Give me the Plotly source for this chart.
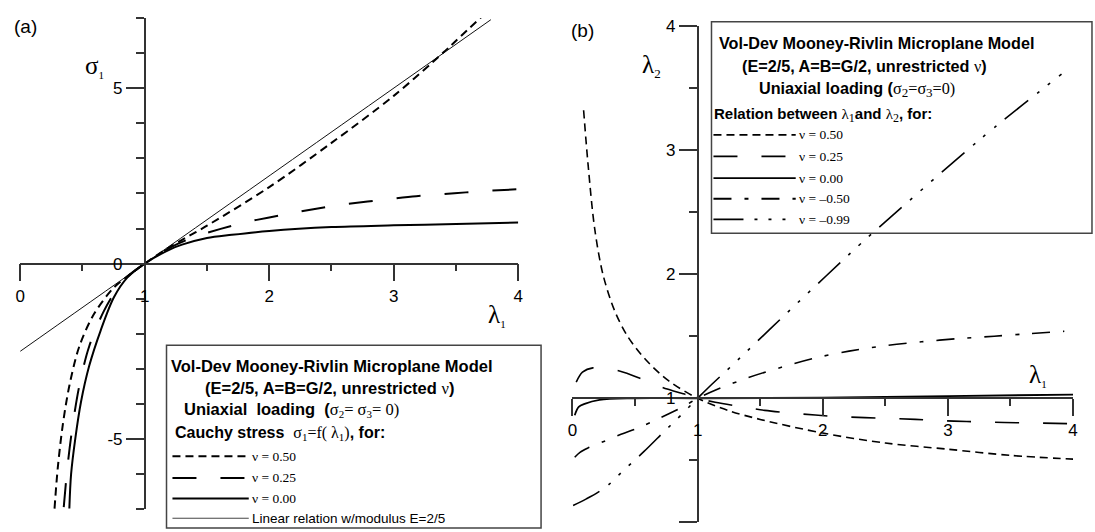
import plotly.graph_objects as go

W, H = 1095, 532

# ---------------- data: panel (a)  sigma_1 = f(lambda_1) ----------------
lam_a_nu050 = [0.276, 0.302, 0.342, 0.395, 0.475, 0.594, 0.753, 0.86, 1.0, 1.2, 1.5, 2.0, 2.5, 3.0, 3.4, 3.5, 3.72]
sig_a_nu050 = [-6.98, -5.82, -4.60, -3.48, -2.36, -1.43, -0.68, -0.37, 0.0, 0.47, 1.08, 2.18, 3.44, 4.78, 6.02, 6.35, 7.08]

lam_a_nu025 = [0.350, 0.382, 0.422, 0.475, 0.554, 0.674, 0.793, 0.86, 1.0, 1.2, 1.4, 1.61, 1.80, 1.99,
               2.21, 2.39, 2.59, 2.79, 2.99, 3.18, 3.40, 3.58, 3.79, 4.0]
sig_a_nu025 = [-6.94, -5.72, -4.60, -3.48, -2.36, -1.34, -0.64, -0.37, 0.0, 0.45, 0.76, 0.99, 1.17, 1.31,
               1.46, 1.57, 1.68, 1.77, 1.85, 1.92, 1.98, 2.03, 2.08, 2.12]

lam_a_nu000 = [0.395, 0.409, 0.443, 0.488, 0.554, 0.647, 0.753, 0.86, 1.0, 1.2, 1.3, 1.5, 1.7, 2.0, 2.5, 3.0, 3.5, 4.0]
sig_a_nu000 = [-6.98, -6.00, -4.98, -3.95, -2.92, -1.90, -0.96, -0.40, 0.0, 0.40, 0.54, 0.73, 0.82, 0.93, 1.04, 1.09, 1.13, 1.17]

lam_a_lin = [0.0, 1.0, 3.78]
sig_a_lin = [-2.5, 0.0, 6.95]

# ---------------- data: panel (b)  lambda_2 vs lambda_1 ----------------
lam_b_nu050 = [0.089, 0.124, 0.177, 0.243, 0.335, 0.44, 0.586, 0.77, 1.0, 1.25, 1.5, 2.0, 2.5, 3.0, 3.5, 4.0]
l2_b_nu050 = [3.32, 2.89, 2.37, 2.00, 1.71, 1.50, 1.31, 1.14, 1.0, 0.90, 0.83, 0.72, 0.64, 0.59, 0.54, 0.51]

lam_b_nu025 = [0.03, 0.08, 0.163, 0.375, 0.572, 0.757, 0.955, 1.0, 1.14, 1.33, 1.536, 1.72, 1.94, 2.14,
               2.53, 2.74, 2.95, 3.15, 3.35, 3.55, 3.75, 4.0]
l2_b_nu025 = [1.13, 1.21, 1.245, 1.22, 1.148, 1.074, 1.016, 1.0, 0.968, 0.935, 0.903, 0.884, 0.865, 0.852,
              0.838, 0.83, 0.82, 0.813, 0.808, 0.803, 0.80, 0.795]

lam_b_nu000 = [0.018, 0.05, 0.097, 0.216, 0.48, 1.0, 2.0, 3.0, 4.0]
l2_b_nu000 = [0.863, 0.93, 0.955, 0.987, 1.0, 1.0, 1.006, 1.018, 1.03]

lam_b_num050 = [0.018, 0.06, 0.124, 0.256, 0.388, 0.52, 0.644, 0.77, 0.889, 1.0,
                1.14, 1.40, 1.67, 1.94, 2.21, 2.51, 2.79, 3.07, 3.37, 3.64, 3.93]
l2_b_num050 = [0.525, 0.565, 0.60, 0.655, 0.71, 0.76, 0.815, 0.875, 0.935, 1.0,
               1.065, 1.165, 1.25, 1.325, 1.38, 1.425, 1.455, 1.48, 1.50, 1.52, 1.54]

lam_b_num099 = [0.005, 0.111, 0.203, 0.295, 0.388, 0.572, 0.744, 0.823, 1.0, 1.087, 1.27, 1.80, 2.33, 2.42, 3.25, 3.92]
l2_b_num099 = [0.137, 0.19, 0.242, 0.309, 0.40, 0.572, 0.744, 0.82, 1.0, 1.087, 1.26, 1.77, 2.27, 2.35, 3.08, 3.62]

# tick labels
a_xticks = [0, 1, 2, 3, 4]
a_yticks = [-5, 0, 5]
a_yticktext = ["-5", "0", "5"]
b_ticks = [0, 1, 2, 3, 4]

# legend labels
a_leg_labels = ["\u03bd = 0.50", "\u03bd = 0.25", "\u03bd = 0.00", "Linear relation w/modulus E=2/5"]
b_leg_labels = ["\u03bd = 0.50", "\u03bd = 0.25", "\u03bd = 0.00", "\u03bd = \u20130.50", "\u03bd = \u20130.99"]

# ---------------- styles ----------------
D050 = "8px,5px"
D025 = "24px,24px"
DM050 = "18px,13px,4px,13px"
DM099 = "30px,11px,3px,11px,3px,11px,3px,11px"

SANS = "Liberation Sans, Arial, Helvetica, sans-serif"
SERIF = "Liberation Serif, Times New Roman, serif"
AX = "#333333"


def X(p):
    return p / W


def Y(p):
    return 1 - p / H


def pos(v, r, dom):
    return dom[0] + (v - r[0]) / (r[1] - r[0]) * (dom[1] - dom[0])


a_xr, a_yr = [0, 4], [-7, 7]
b_xr, b_yr = [0, 4], [0, 4]
a_xdom = [X(15.3), X(518.0)]
a_ydom = [Y(508.9), Y(9.1)]
b_xdom = [X(572.7), X(1077.9)]
b_ydom = [Y(522.3), Y(17.1)]

fig = go.Figure()


def add(x, y, xa, ya, width, dash, color="black"):
    fig.add_trace(go.Scatter(x=x, y=y, mode="lines", xaxis=xa, yaxis=ya,
                             line=dict(color=color, width=width, dash=dash, shape="spline", smoothing=0.9),
                             showlegend=False, hoverinfo="skip"))


add(lam_a_lin, sig_a_lin, "x", "y", 1.0, "solid", "#111111")
add(lam_a_nu050, sig_a_nu050, "x", "y", 2.0, D050)
add(lam_a_nu025, sig_a_nu025, "x", "y", 2.0, D025)
add(lam_a_nu000, sig_a_nu000, "x", "y", 2.0, "solid")

add(lam_b_nu050, l2_b_nu050, "x2", "y2", 1.6, D050)
add(lam_b_nu025, l2_b_nu025, "x2", "y2", 1.6, D025)
add(lam_b_nu000, l2_b_nu000, "x2", "y2", 1.8, "solid")
add(lam_b_num050, l2_b_num050, "x2", "y2", 1.6, DM050)
add(lam_b_num099, l2_b_num099, "x2", "y2", 1.6, DM099)

tickfont = dict(family=SANS, size=17, color="black")


def xaxis(dom, rng, posn, vals):
    return dict(domain=dom, range=rng, anchor="free", position=posn, showline=True, linecolor=AX,
                linewidth=1.5, ticks="outside", ticklen=17, tickwidth=1.5, tickcolor=AX,
                tickmode="array", tickvals=vals, ticktext=[str(v) for v in vals],
                showgrid=False, zeroline=False, tickfont=tickfont, fixedrange=True,
                minor=dict(ticks="outside", ticklen=7, tickwidth=1.5, tickcolor=AX,
                           tickmode="linear", tick0=0, dtick=0.5, showgrid=False))


def yaxis(dom, rng, posn, vals, text, minor_dt):
    return dict(domain=dom, range=rng, anchor="free", position=posn, showline=True, linecolor=AX,
                linewidth=1.5, ticks="outside", ticklen=18, tickwidth=1.5, tickcolor=AX,
                tickmode="array", tickvals=vals, ticktext=text,
                showgrid=False, zeroline=False, tickfont=tickfont, fixedrange=True,
                minor=dict(ticks="outside", ticklen=8, tickwidth=1.5, tickcolor=AX,
                           tickmode="linear", tick0=0, dtick=minor_dt, showgrid=False))


fig.update_layout(
    width=W, height=H, margin=dict(l=0, r=0, t=0, b=0, pad=0),
    paper_bgcolor="white", plot_bgcolor="rgba(0,0,0,0)",
    xaxis=xaxis(a_xdom, a_xr, pos(0, a_yr, a_ydom), a_xticks),
    yaxis=yaxis(a_ydom, a_yr, pos(1, a_xr, a_xdom), a_yticks, a_yticktext, 1),
    xaxis2=xaxis(b_xdom, b_xr, pos(1, b_yr, b_ydom), b_ticks),
    yaxis2=yaxis(b_ydom, b_yr, pos(1, b_xr, b_xdom), b_ticks, [str(v) for v in b_ticks], 0.5),
)

ann = []
shapes = []


def text(x, y, s, size, family=SANS, xanchor="left"):
    ann.append(dict(x=X(x), y=Y(y), xref="paper", yref="paper", text=s, showarrow=False,
                    xanchor=xanchor, yanchor="middle", borderpad=0,
                    font=dict(family=family, size=size, color="black")))


def sline(x0, x1, y, dash, width=2, color="black"):
    shapes.append(dict(type="line", xref="paper", yref="paper", x0=X(x0), x1=X(x1), y0=Y(y), y1=Y(y),
                       line=dict(color=color, width=width, dash=dash)))


def ser(s):
    return "<span style='font-family:Liberation Serif, Times New Roman, serif;font-weight:normal'>" + s + "</span>"


def sub(s, size):
    return "<sub><span style='font-size:%dpx'>%s</span></sub>" % (size, s)


# panel labels and axis titles
text(8, 18, "(a)", 19)
text(570, 22, "(b)", 19)
text(80, 58, "\u03c3" + sub("1", 11), 25, SERIF)
text(486, 312, "\u03bb" + sub("1", 11), 25, SERIF)
text(1032, 373, "\u03bb" + sub("1", 11), 25, SERIF)
text(642, 58, "\u03bb" + sub("2", 13), 25, SERIF)

# ---- legend box (a)
shapes.append(dict(type="rect", xref="paper", yref="paper", x0=X(163), x1=X(541), y0=Y(528), y1=Y(342),
                   line=dict(color="#444444", width=1.5), fillcolor="rgba(0,0,0,0)"))
text(167, 363, "<b>Vol-Dev Mooney-Rivlin Microplane Model</b>", 16.5)
text(201, 386, "<b>(E=2/5, A=B=G/2, unrestricted </b>" + ser("\u03bd") + "<b>)</b>", 16.5)
text(180, 408, "<b>Uniaxial\u00a0 loading\u00a0 (</b>" + ser("\u03c3" + sub("2", 11) + "= \u03c3" + sub("3", 11) + "= 0)"), 16.5)
text(171, 432, "<b>Cauchy stress\u00a0 </b>" + ser("\u03c3" + sub("1", 11) + "=f( \u03bb" + sub("1", 11) + ")") + "<b>, for:</b>", 16)
a_leg_y = [455, 477, 498, 518]
a_leg_dash = [D050, D025, "solid", "solid"]
a_leg_w = [2, 2, 2, 1]
for yy, lab, d, w in zip(a_leg_y, a_leg_labels, a_leg_dash, a_leg_w):
    sline(169, 246, yy, d, w, "black" if w > 1 else "#444444")
    text(248, yy, lab, 13.5, SERIF if lab.startswith("\u03bd") else SANS)

# ---- legend box (b)
shapes.append(dict(type="rect", xref="paper", yref="paper", x0=X(713), x1=X(1097), y0=Y(228), y1=Y(13),
                   line=dict(color="#444444", width=1.5), fillcolor="rgba(0,0,0,0)"))
text(720, 35, "<b>Vol-Dev Mooney-Rivlin Microplane Model</b>", 16.2)
text(743, 58, "<b>(E=2/5, A=B=G/2, unrestricted </b>" + ser("\u03bd") + "<b>)</b>", 16.2)
text(760, 82, "<b>Uniaxial loading (</b>" + ser("\u03c3" + sub("2", 13) + "=\u03c3" + sub("3", 13) + "=0)"), 16.2)
text(715, 108, "<b>Relation between </b>" + ser("\u03bb" + sub("1", 12)) + "<b>and </b>" + ser("\u03bb" + sub("2", 12)) + "<b>, for:</b>", 15)
b_leg_y = [128, 150, 172, 193, 214]
b_leg_dash = [D050, D025, "solid", DM050, DM099]
for yy, lab, d in zip(b_leg_y, b_leg_labels, b_leg_dash):
    sline(715, 798, yy, d, 1.8)
    text(800, yy, lab, 13.5, SERIF)

fig.update_layout(annotations=ann, shapes=shapes)

fig.write_html("out.html", include_plotlyjs=True, config={"displayModeBar": False},
               post_script="document.body.style.margin='0';document.body.style.overflow='hidden';")
